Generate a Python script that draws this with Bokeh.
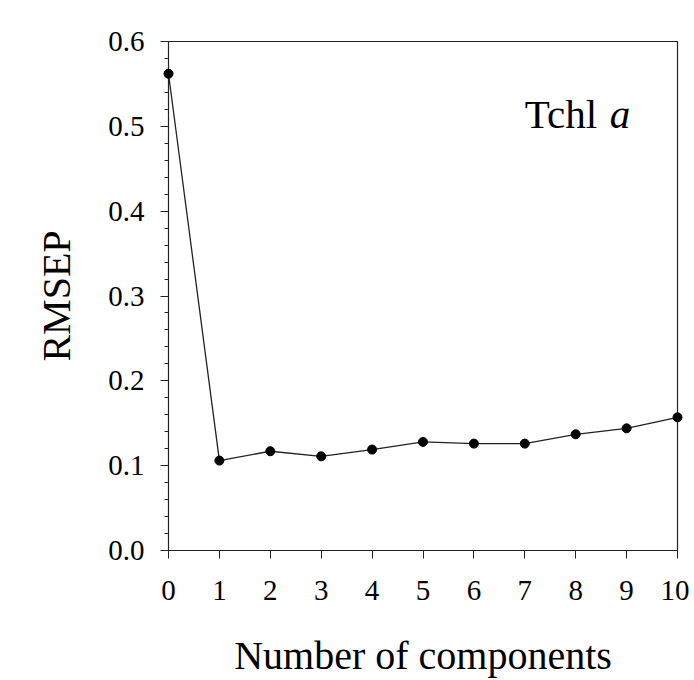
from bokeh.plotting import figure
from bokeh.models import Range1d, FixedTicker, Label, CustomJSTickFormatter
from bokeh.embed import file_html
from bokeh.resources import INLINE

# Data
components = [0, 1, 2, 3, 4, 5, 6, 7, 8, 9, 10]
rmsep = [0.562, 0.106, 0.117, 0.111, 0.119, 0.128, 0.126, 0.126, 0.137, 0.144, 0.157]
x_ticks = [0, 1, 2, 3, 4, 5, 6, 7, 8, 9, 10]
y_ticks = [0.0, 0.1, 0.2, 0.3, 0.4, 0.5, 0.6]
y_minor_ticks = [round(i * 0.02, 2) for i in range(31)]

FONT = "Liberation Serif"
INK = "#222222"

p = figure(frame_width=509, frame_height=509,
           x_range=Range1d(x_ticks[0], x_ticks[-1]),
           y_range=Range1d(y_ticks[0], y_ticks[-1]),
           output_backend="svg", toolbar_location=None,
           min_border_left=168, min_border_top=41, min_border_right=12,
           min_border_bottom=130)
p.outline_line_color = INK
p.outline_line_width = 1.2
p.grid.visible = False
p.background_fill_color = "white"
p.border_fill_color = "white"

# x axis
xa = p.xaxis[0]
xa.ticker = FixedTicker(ticks=x_ticks)
xa.axis_label = "Number of components"
xa.axis_label_text_font = FONT
xa.axis_label_text_font_size = "40px"
xa.axis_label_text_font_style = "normal"
xa.axis_label_text_color = "black"
xa.axis_label_standoff = 30
xa.major_label_text_font = FONT
xa.major_label_text_font_size = "29px"
xa.major_label_text_color = "black"
xa.major_label_standoff = 22
xa.major_tick_out = 8
xa.major_tick_in = 0
xa.minor_tick_out = 0
xa.minor_tick_in = 0
xa.axis_line_color = INK
xa.major_tick_line_color = INK

# y axis
ya = p.yaxis[0]
ya.ticker = FixedTicker(ticks=y_ticks, minor_ticks=y_minor_ticks)
ya.formatter = CustomJSTickFormatter(code="return tick.toFixed(1);")
ya.axis_label = "RMSEP"
ya.axis_label_text_font = FONT
ya.axis_label_text_font_size = "40px"
ya.axis_label_text_font_style = "normal"
ya.axis_label_text_color = "black"
ya.axis_label_standoff = 26
ya.major_label_text_font = FONT
ya.major_label_text_font_size = "29px"
ya.major_label_text_color = "black"
ya.major_label_standoff = 16
ya.major_tick_out = 8
ya.major_tick_in = 0
ya.minor_tick_out = 4
ya.minor_tick_in = 0
ya.axis_line_color = INK
ya.major_tick_line_color = INK
ya.minor_tick_line_color = INK

# data (overlay level so the points on the frame edges are not clipped)
p.line(components, rmsep, line_color=INK, line_width=1.3, level="overlay")
p.scatter(components, rmsep, size=9, fill_color="black", line_color="black",
          level="overlay")

# panel label
p.add_layout(Label(x=7.0, y=0.515, text="Tchl", text_font=FONT,
                   text_font_size="41px", text_color="black",
                   text_baseline="alphabetic"))
p.add_layout(Label(x=7.0, y=0.515, x_offset=85, text="a", text_font=FONT,
                   text_font_size="41px", text_font_style="italic",
                   text_color="black", text_baseline="alphabetic"))

open("out.html", "w").write(file_html(p, INLINE))
